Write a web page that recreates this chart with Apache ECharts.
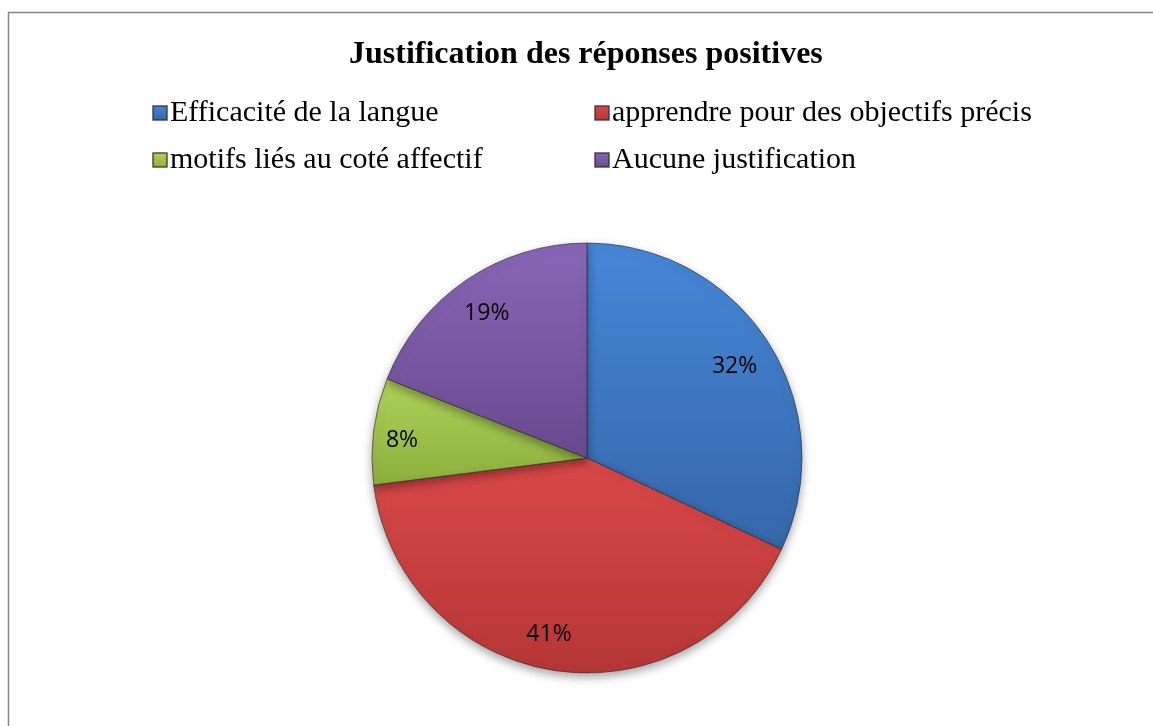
<!DOCTYPE html>
<html>
<head>
<meta charset="utf-8">
<script src="https://cdn.jsdelivr.net/npm/echarts@6/dist/echarts.min.js"></script>
<style>
html,body{margin:0;padding:0;background:#fff;}
#chart{width:1153px;height:726px;}
</style>
</head>
<body>
<div id="chart"></div>
<script>
const titleText = 'Justification des réponses positives';
const categories = ['Efficacité de la langue', 'apprendre pour des objectifs précis', 'motifs liés au coté affectif', 'Aucune justification'];
const values = [32, 41, 8, 19];
const colorTop = ['#4687d8', '#d94848', '#afd35a', '#8a66b8'];
const colorBottom = ['#3566a8', '#b53636', '#8cae3c', '#684a8e'];
// label nudges to mimic Excel best-fit placement (style only)
const labelPadding = [[0, 18, 0, 0], [0, 18, 0, 0], [0, 2, 0, 0], [0, 0, 0, 8]];
const labelOffset = [[0, 8], [0, -7], [0, 6], [0, 9]];

const chart = echarts.init(document.getElementById('chart'), null, {renderer: 'canvas'});

function grad(i) {
  return new echarts.graphic.LinearGradient(0, 0, 0, 1, [
    {offset: 0, color: colorTop[i]},
    {offset: 1, color: colorBottom[i]}
  ]);
}

const legendPos = [[152, 98], [594, 98], [152, 145], [594, 145]];
const legends = categories.map((c, i) => ({
  data: [c],
  left: legendPos[i][0],
  top: legendPos[i][1],
  orient: 'horizontal',
  icon: 'rect',
  itemWidth: 14,
  itemHeight: 14,
  itemGap: 0,
  padding: 0,
  selectedMode: false,
  textStyle: {fontFamily: 'Liberation Serif', fontSize: 30, color: '#000', padding: [0, 0, 0, -2]}
}));

const dataMain = categories.map((c, i) => ({
  name: c,
  value: values[i],
  itemStyle: {color: grad(i)}
}));

chart.setOption({
  animation: false,
  backgroundColor: '#fff',
  title: {
    text: titleText,
    left: 349,
    top: 39,
    padding: 0,
    textStyle: {fontFamily: 'Liberation Serif', fontWeight: 'bold', fontSize: 32, color: '#000'}
  },
  graphic: [{
    type: 'rect',
    shape: {x: 8.5, y: 12.5, width: 1300, height: 900},
    style: {fill: 'none', stroke: '#868686', lineWidth: 1.5},
    silent: true
  }],
  legend: legends,
  series: [
    {
      type: 'pie',
      center: [587, 458],
      radius: [0, 215],
      startAngle: 90,
      clockwise: true,
      avoidLabelOverlap: false,
      label: {show: false},
      labelLine: {show: false},
      itemStyle: {
        borderColor: 'rgba(40,40,40,0.6)',
        borderWidth: 1,
        shadowBlur: 10,
        shadowOffsetY: 4,
        shadowColor: 'rgba(0,0,0,0.35)'
      },
      emphasis: {disabled: true},
      data: dataMain
    },
    {
      type: 'pie',
      center: [587, 458],
      radius: [150, 215],
      startAngle: 90,
      clockwise: true,
      silent: true,
      avoidLabelOverlap: false,
      itemStyle: {color: 'rgba(0,0,0,0)', borderWidth: 0},
      label: {
        show: true,
        position: 'inside',
        formatter: '{c}%',
        fontFamily: 'Open Sans',
        fontSize: 23,
        color: '#000'
      },
      labelLine: {show: false},
      emphasis: {disabled: true},
      data: categories.map((c, i) => ({name: c, value: values[i], label: {padding: labelPadding[i], offset: labelOffset[i]}}))
    }
  ]
});
</script>
</body>
</html>
